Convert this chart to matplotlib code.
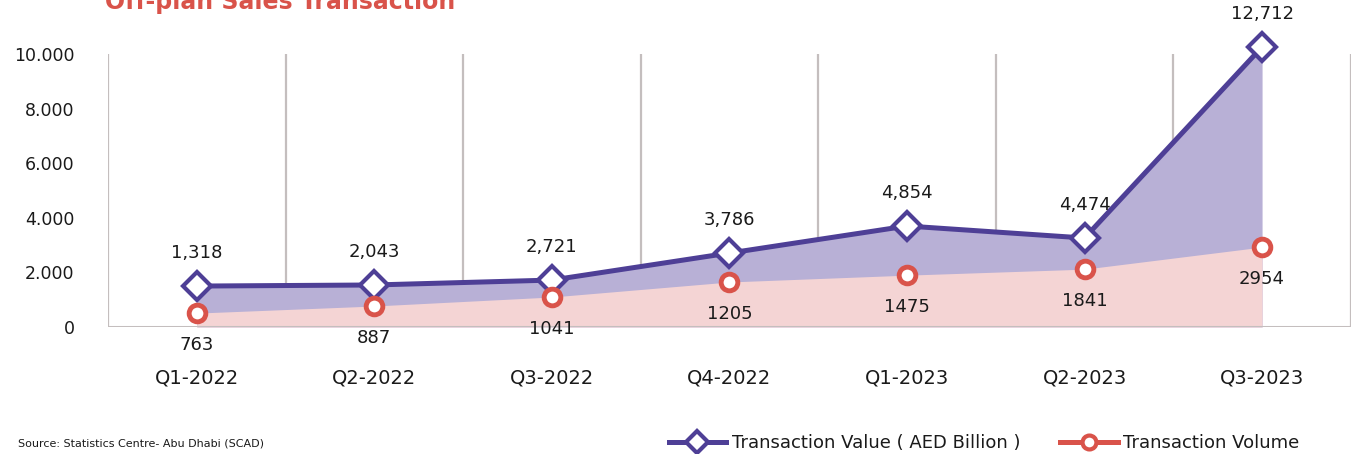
#!/bin/env python3
"""
Off-plan sales transactions, quarterly value and volume (Abu Dhabi).
"""
import matplotlib.pyplot as plt
from matplotlib.lines import Line2D

quarters = ['Q1-2022', 'Q2-2022', 'Q3-2022', 'Q4-2022', 'Q1-2023', 'Q2-2023', 'Q3-2023']

# plotted heights as they appear on the chart
value_plot = [1500, 1540, 1720, 2710, 3700, 3260, 10260]
volume_plot = [510, 770, 1100, 1650, 1900, 2120, 2930]

# labels printed next to the markers
value_labels = ['1,318', '2,043', '2,721', '3,786', '4,854', '4,474', '12,712']
volume_labels = ['763', '887', '1041', '1205', '1475', '1841', '2954']

y_ticks = [0, 2000, 4000, 6000, 8000, 10000]
y_tick_labels = ['0', '2.000', '4.000', '6.000', '8.000', '10.000']

PURPLE = '#4e3f96'
PURPLE_FILL = '#b8b0d6'
RED = '#d9534a'
PINK_FILL = '#f4d4d4'
GRID = '#c4bebe'
TEXT = '#1a1a1a'

fig = plt.figure(figsize=(13.59, 4.54), dpi=100)
ax = fig.add_axes([0.0795, 0.2797, 0.9145, 0.6013])

x = list(range(len(quarters)))

# stacked looking areas
ax.fill_between(x, 0, value_plot, color=PURPLE_FILL, lw=0, zorder=1)
ax.fill_between(x, 0, volume_plot, color=PINK_FILL, lw=0, zorder=2)

# vertical separators between quarters
for b in [i - 0.5 for i in range(len(quarters) + 1)]:
    ax.axvline(b, ymin=0, ymax=1, color=GRID, lw=1.6, zorder=0.5)
ax.axhline(0, color=GRID, lw=2.2, zorder=3)

ax.plot(x, value_plot, color=PURPLE, lw=3.6, marker='D', markersize=14,
        markerfacecolor='white', markeredgecolor=PURPLE, markeredgewidth=3,
        zorder=5, clip_on=False)
ax.plot(x, volume_plot, linestyle='none', marker='o', markersize=12,
        markerfacecolor='white', markeredgecolor=RED, markeredgewidth=3.5,
        zorder=5, clip_on=False)

for xi, yv, lab in zip(x, value_plot, value_labels):
    ax.annotate(lab, (xi, yv), xytext=(0, 24), textcoords='offset points',
                ha='center', va='center', fontsize=13, color=TEXT, zorder=6,
                annotation_clip=False)
for xi, yv, lab in zip(x, volume_plot, volume_labels):
    ax.annotate(lab, (xi, yv), xytext=(0, -23), textcoords='offset points',
                ha='center', va='center', fontsize=13, color=TEXT, zorder=6,
                annotation_clip=False)

ax.set_xlim(-0.5, len(quarters) - 0.5)
ax.set_ylim(0, 10000)
ax.set_xticks(x)
ax.set_xticklabels(quarters, fontsize=14, color=TEXT)
ax.set_yticks(y_ticks)
ax.set_yticklabels(y_tick_labels, fontsize=12.5, color=TEXT, fontweight='medium')
ax.tick_params(axis='both', length=0)
ax.tick_params(axis='y', pad=24)
ax.tick_params(axis='x', pad=30)
for s in ax.spines.values():
    s.set_visible(False)

# title sits partly above the canvas, as in the source image
fig.text(105 / 1359, 1 - 9 / 454, 'Off-plan Sales Transaction', color=RED,
         fontsize=17, fontweight='bold', ha='left', va='baseline')
fig.text(18 / 1359, 1 - 444 / 454, 'Source: Statistics Centre- Abu Dhabi (SCAD)',
         fontsize=8, color=TEXT, ha='left', va='center')

handles = [
    Line2D([], [], color=PURPLE, lw=3.6, marker='D', markersize=11,
           markerfacecolor='white', markeredgecolor=PURPLE, markeredgewidth=3),
    Line2D([], [], color=RED, lw=3.6, marker='o', markersize=10,
           markerfacecolor='white', markeredgecolor=RED, markeredgewidth=3),
]
fig.legend(handles, ['Transaction Value ( AED Billion )', 'Transaction Volume'],
           loc='center', bbox_to_anchor=(984 / 1359, 1 - 443 / 454), ncol=2,
           frameon=False, fontsize=13, handlelength=3.2, handletextpad=0.3,
           columnspacing=2.2, labelcolor=TEXT)

fig.savefig('out.png', dpi=100)
